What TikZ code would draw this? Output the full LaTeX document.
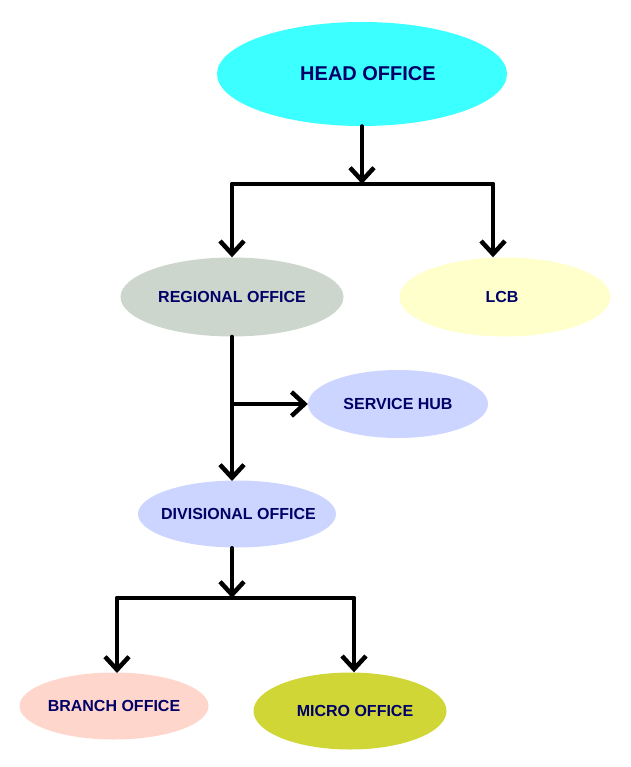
\documentclass[tikz,border=0pt]{standalone}
\usepackage{fontspec}
\setmainfont{Liberation Sans}
\usetikzlibrary{shapes.geometric,arrows.meta}
\definecolor{txt}{HTML}{000066}
\definecolor{cheadc}{HTML}{3CFFFF}
\definecolor{cregion}{HTML}{CCD6CC}
\definecolor{clcb}{HTML}{FFFFCC}
\definecolor{clav}{HTML}{CCD5FF}
\definecolor{cbranch}{HTML}{FFD6CC}
\definecolor{cmicro}{HTML}{CFD636}
\newcommand{\zt}[2][0pt]{\makebox[0pt]{\hspace{#1}#2}}
\begin{document}
\begin{tikzpicture}[x=1pt,y=-1pt,
  oval/.style={ellipse,inner sep=0pt,text=txt,font=\fontsize{16}{18}\selectfont\bfseries},
  conn/.style={line width=4pt,line cap=round,line join=round},
  arr/.style={conn,-{Straight Barb[length=13pt,width=24pt,line width=4.5pt]}}]
\useasboundingbox (0,0) rectangle (630,767);
\node[oval,fill=cheadc,minimum width=290pt,minimum height=104pt,font=\fontsize{20}{22}\selectfont\bfseries] (head) at (362,74) {\zt[12pt]{HEAD OFFICE}};
\node[oval,fill=cregion,minimum width=223pt,minimum height=79pt] (reg) at (232,297) {\zt{REGIONAL OFFICE}};
\node[oval,fill=clcb,minimum width=211pt,minimum height=79pt] (lcb) at (505,297) {\zt[-6pt]{LCB}};
\node[oval,fill=clav,minimum width=180pt,minimum height=68pt] (hub) at (398,404) {\zt{SERVICE HUB}};
\node[oval,fill=clav,minimum width=198pt,minimum height=67pt] (div) at (237,514) {\zt[3pt]{DIVISIONAL OFFICE}};
\node[oval,fill=cbranch,minimum width=189pt,minimum height=67pt] (br) at (114,706) {\zt{BRANCH OFFICE}};
\node[oval,fill=cmicro,minimum width=193pt,minimum height=77pt] (mic) at (350,711) {\zt[10pt]{MICRO OFFICE}};
\coordinate (j1) at (362,184);
\coordinate (j1l) at (232,184);
\coordinate (j1r) at (493,184);
\coordinate (j2) at (232,404);
\coordinate (j3) at (232,598);
\coordinate (j3l) at (117,598);
\coordinate (j3r) at (354,598);
\draw[arr] (head.south) -- (j1);
\draw[conn] (j1l) -- (j1r);
\draw[arr] (j1l) -- (reg.north);
\draw[arr] (j1r) -- (j1r |- lcb.north);
\draw[arr] (reg.south) -- (232,481);
\draw[arr] (j2) -- (hub.west);
\draw[arr] (232,548) -- (j3);
\draw[conn] (j3l) -- (j3r);
\draw[arr] (j3l) -- (117,673);
\draw[arr] (j3r) -- (mic.north -| j3r);
\end{tikzpicture}
\end{document}
